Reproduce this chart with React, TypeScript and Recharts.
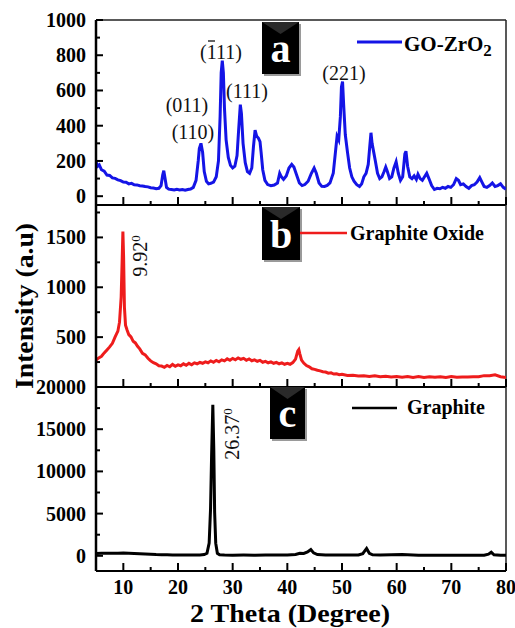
import React from 'react';
import { LineChart, Line, XAxis, YAxis, ReferenceLine } from 'recharts';

// XRD patterns: [2 theta, intensity]
const goZrO2: [number, number][] = [
  [5, 195], [5.3, 170], [5.6, 178], [6, 150], [6.5, 142], [7, 120], [7.5, 118], [8, 104], [8.5, 101],
  [9, 93], [9.5, 88], [10, 80], [10.5, 79], [11, 70], [11.5, 73], [12, 65], [12.5, 64], [13, 59],
  [13.5, 58], [14, 55], [14.5, 53], [15, 48], [15.5, 46], [16, 42], [16.5, 45], [16.9, 60], [17.2, 120],
  [17.4, 145], [17.6, 108], [17.9, 50], [18.3, 40], [18.8, 38], [19.3, 35], [19.8, 39], [20.3, 35],
  [20.8, 38], [21.3, 34], [21.8, 38], [22.3, 41], [22.8, 50], [23.3, 90], [23.7, 200], [23.9, 270],
  [24.2, 300], [24.5, 250], [24.8, 140], [25.2, 85], [25.6, 70], [26, 73], [26.5, 80], [27, 110],
  [27.4, 200], [27.7, 450], [27.9, 700], [28.1, 770], [28.3, 700], [28.5, 500], [28.8, 320], [29.2, 220],
  [29.6, 175], [30, 160], [30.4, 170], [30.8, 230], [31.1, 380], [31.4, 520], [31.6, 470], [31.9, 300],
  [32.3, 190], [32.7, 140], [33.1, 130], [33.5, 160], [33.8, 280], [34.1, 375], [34.4, 340], [34.7, 330],
  [35, 310], [35.2, 250], [35.5, 150], [35.9, 90], [36.4, 66], [37, 60], [37.6, 63], [38.2, 75],
  [38.6, 130], [38.9, 110], [39.3, 95], [39.8, 115], [40.3, 160], [40.8, 180], [41.2, 165], [41.7, 120],
  [42.2, 75], [42.7, 60], [43.2, 66], [43.8, 85], [44.4, 130], [44.9, 160], [45.3, 130], [45.8, 75],
  [46.3, 56], [46.8, 55], [47.3, 61], [47.8, 75], [48.4, 130], [48.8, 250], [49.1, 340], [49.4, 320],
  [49.7, 450], [49.9, 620], [50.1, 650], [50.3, 520], [50.6, 350], [51, 250], [51.4, 160], [51.8, 110],
  [52.2, 85], [52.7, 65], [53.2, 55], [53.6, 70], [54, 110], [54.4, 130], [54.8, 180], [55.1, 290],
  [55.3, 360], [55.5, 300], [55.8, 250], [56.1, 200], [56.5, 130], [56.9, 100], [57.3, 110], [57.7, 140],
  [58, 165], [58.3, 140], [58.7, 100], [59.1, 110], [59.5, 160], [59.9, 195], [60.3, 130], [60.7, 90],
  [61.1, 110], [61.5, 240], [61.7, 255], [62, 170], [62.4, 110], [62.8, 100], [63.2, 115], [63.6, 95],
  [63.9, 125], [64.3, 100], [64.7, 90], [65.1, 110], [65.5, 130], [65.9, 100], [66.4, 60], [66.9, 38],
  [67.4, 45], [67.9, 42], [68.4, 50], [68.9, 45], [69.4, 55], [69.9, 50], [70.4, 65], [70.9, 100],
  [71.3, 90], [71.7, 65], [72.2, 70], [72.7, 55], [73.2, 45], [73.7, 60], [74.2, 65], [74.7, 80],
  [75.2, 105], [75.6, 80], [76, 55], [76.5, 50], [77, 60], [77.5, 75], [78, 55], [78.5, 60], [79, 70],
  [79.5, 50], [80, 40],
];

const graphiteOxide: [number, number][] = [
  [5, 270], [5.5, 292], [6, 308], [6.5, 342], [7, 372], [7.5, 402], [8, 438], [8.5, 502], [9, 560],
  [9.3, 650], [9.6, 900], [9.8, 1300], [9.92, 1560], [10.05, 1300], [10.2, 800], [10.4, 620], [10.7, 570],
  [11, 525], [11.4, 502], [11.8, 458], [12.2, 442], [12.6, 408], [13, 382], [13.5, 338], [14, 322],
  [14.5, 288], [15, 262], [15.5, 243], [16, 232], [16.5, 213], [17, 210], [17.5, 198], [18, 216],
  [18.5, 203], [19, 226], [19.5, 208], [20, 222], [20.5, 213], [21, 232], [21.5, 218], [22, 237],
  [22.5, 223], [23, 242], [23.5, 233], [24, 247], [24.5, 238], [25, 252], [25.5, 243], [26, 262],
  [26.5, 248], [27, 267], [27.5, 253], [28, 272], [28.5, 262], [29, 282], [29.5, 268], [30, 287],
  [30.5, 273], [31, 292], [31.5, 278], [32, 287], [32.5, 268], [33, 282], [33.5, 263], [34, 272],
  [34.5, 258], [35, 267], [35.5, 248], [36, 257], [36.5, 243], [37, 252], [37.5, 238], [38, 247],
  [38.5, 233], [39, 242], [39.5, 228], [40, 237], [40.5, 228], [41, 245], [41.5, 280], [41.9, 360],
  [42.1, 375], [42.3, 330], [42.6, 270], [43, 240], [43.5, 215], [44, 202], [44.5, 183], [45, 177],
  [45.5, 168], [46, 162], [46.5, 153], [47, 150], [47.5, 138], [48, 142], [48.5, 130], [49, 132],
  [49.5, 123], [50, 128], [51, 116], [52, 118], [53, 110], [54, 113], [55, 106], [56, 112], [57, 103],
  [58, 108], [59, 100], [60, 106], [61, 98], [62, 104], [63, 96], [64, 104], [65, 96], [66, 102],
  [67, 97], [68, 103], [69, 96], [70, 104], [71, 98], [72, 100], [73, 101], [74, 103], [75, 102],
  [76, 114], [77, 113], [78, 122], [79, 103], [80, 95],
];

const graphite: [number, number][] = [
  [5, 280], [6, 300], [7, 290], [8, 310], [9, 300], [10, 320], [11, 290], [12, 260], [13, 230],
  [14, 200], [15, 180], [16, 150], [17, 140], [18, 120], [19, 110], [20, 100], [21, 95], [22, 90],
  [23, 90], [24, 100], [24.8, 150], [25.3, 300], [25.7, 1500], [25.95, 5500], [26.15, 12000],
  [26.37, 17900], [26.55, 12500], [26.7, 5200], [26.9, 1500], [27.2, 300], [27.6, 120], [28.5, 90],
  [30, 80], [32, 85], [34, 80], [36, 90], [38, 85], [40, 100], [41.5, 150], [42.3, 300], [43, 280],
  [43.7, 450], [44.3, 750], [44.8, 350], [45.5, 150], [47, 110], [49, 100], [51, 90], [53, 100],
  [53.8, 250], [54.5, 870], [55, 300], [55.6, 120], [57, 110], [59, 120], [61, 150], [62, 120],
  [64, 80], [66, 70], [68, 75], [70, 70], [72, 75], [74, 70], [76, 80], [76.8, 200], [77.3, 420],
  [77.8, 120], [79, 70], [80, 60],
];

const xTicks = [10, 15, 20, 25, 30, 35, 40, 45, 50, 55, 60, 65, 70, 75, 80];
const aTicks = [0, 100, 200, 300, 400, 500, 600, 700, 800, 900, 1000];
const bTicks = [250, 500, 750, 1000, 1250, 1500, 1750];
const cTicks = [0, 2500, 5000, 7500, 10000, 12500, 15000, 17500, 20000];

const FONT = '"Liberation Serif", "Times New Roman", serif';
const Y_GAP = 10;
const X_GAP = 16;

const makeYTick = (step: number) => (props: any) => {
  const { x, y, payload } = props;
  const v = payload.value;
  const major = v % step === 0;
  return (
    <g>
      <line x1={x + Y_GAP} x2={x + Y_GAP + (major ? 7 : 4)} y1={y} y2={y} stroke="#000" strokeWidth={2} />
      {major && (
        <text x={x} y={y} dy="0.35em" textAnchor="end" fontFamily={FONT} fontWeight="bold" fontSize={20} fill="#000">
          {v}
        </text>
      )}
    </g>
  );
};

const makeXTick = (showLabel: boolean) => (props: any) => {
  const { x, y, payload } = props;
  const v = payload.value;
  const major = v % 10 === 0;
  const base = y - X_GAP;
  return (
    <g>
      <line x1={x} x2={x} y1={base} y2={base - (major ? 8 : 4)} stroke="#000" strokeWidth={2} />
      {showLabel && major && (
        <text x={x} y={y} dy="0.35em" textAnchor="middle" fontFamily={FONT} fontWeight="bold" fontSize={20} fill="#000">
          {v}
        </text>
      )}
    </g>
  );
};

interface PanelProps {
  points: [number, number][];
  color: string;
  domain: [number, number];
  ticks: number[];
  step: number;
  top: number;
  plotHeight: number;
  axisHeight: number;
  xLabels?: boolean;
  topBorder?: boolean;
}

const Panel = ({ points, color, domain, ticks, step, top, plotHeight, axisHeight, xLabels, topBorder }: PanelProps) => {
  const data = points.map(([t, v]) => ({ t, v }));
  return (
    <div style={{ position: 'absolute', left: 0, top }}>
      <LineChart width={515} height={20 + plotHeight + axisHeight} data={data} margin={{ top: 20, right: 9, bottom: 0, left: 0 }}>
        <XAxis
          type="number"
          dataKey="t"
          domain={[5, 80]}
          allowDataOverflow
          ticks={xTicks}
          interval={0}
          height={axisHeight}
          tickSize={0}
          tickMargin={X_GAP}
          tickLine={false}
          axisLine={{ stroke: '#000', strokeWidth: 2 }}
          tick={makeXTick(!!xLabels)}
        />
        <YAxis
          type="number"
          domain={domain}
          allowDataOverflow
          ticks={ticks}
          interval={0}
          width={96}
          tickSize={0}
          tickMargin={Y_GAP}
          tickLine={false}
          axisLine={{ stroke: '#000', strokeWidth: 2.5 }}
          tick={makeYTick(step)}
        />
        <ReferenceLine x={80} stroke="#222" strokeWidth={1.5} />
        {topBorder && <ReferenceLine y={domain[1]} stroke="#222" strokeWidth={1.5} />}
        <Line type="linear" dataKey="v" stroke={color} strokeWidth={3} dot={false} isAnimationActive={false} />
      </LineChart>
    </div>
  );
};

const LetterBox = ({ x, y, w, h, letter }: { x: number; y: number; w: number; h: number; letter: string }) => (
  <g>
    <rect x={x + 2} y={y + 2} width={w} height={h} fill="#9a9a9a" />
    <rect x={x} y={y} width={w} height={h} fill="#000" />
    <polygon points={`${x},${y} ${x + w},${y} ${x + w / 2},${y + 12}`} fill="#2a2a2a" />
    <text x={x + w / 2} y={y + h - 12} textAnchor="middle" fontFamily={FONT} fontWeight="bold" fontSize={40} fill="#fff">
      {letter}
    </text>
  </g>
);

export default function App() {
  return (
    <div style={{ position: 'absolute', left: 0, top: 0, width: 515, height: 628, background: '#fff', overflow: 'hidden' }}>
      <Panel points={goZrO2} color="#1414e6" domain={[-50, 1000]} ticks={aTicks} step={200} top={0} plotHeight={185} axisHeight={20} topBorder />
      <Panel points={graphiteOxide} color="#ee1c1c" domain={[0, 1825]} ticks={bTicks} step={500} top={185} plotHeight={182} axisHeight={20} />
      <Panel points={graphite} color="#000" domain={[-1800, 20000]} ticks={cTicks} step={5000} top={367} plotHeight={184} axisHeight={40} xLabels />

      <svg width={515} height={628} style={{ position: 'absolute', left: 0, top: 0, pointerEvents: 'none' }}>
        {/* axis titles */}
        <text x={290} y={613} dy="0.35em" textAnchor="middle" fontFamily={FONT} fontWeight="bold" fontSize={25}
          textLength={200} lengthAdjust="spacingAndGlyphs">
          2 Theta (Degree)
        </text>
        <text transform="translate(24,306) rotate(-90)" dy="0.35em" textAnchor="middle" fontFamily={FONT} fontWeight="bold"
          fontSize={25} textLength={166} lengthAdjust="spacingAndGlyphs">
          Intensity (a.u)
        </text>

        {/* panel a */}
        <LetterBox x={262} y={22} w={37} h={52} letter="a" />
        <line x1={357} x2={402} y1={42} y2={42} stroke="#1414e6" strokeWidth={3} />
        <text x={404} y={51} fontFamily={FONT} fontWeight="bold" fontSize={21}>
          GO-ZrO<tspan dy={5} fontSize={17}>2</tspan>
        </text>
        <g fontFamily={FONT} fontSize={20} textAnchor="middle" fill="#111">
          <text x={187} y={112}>(011)</text>
          <text x={193} y={139}>(110)</text>
          <text x={221} y={59}>(111)</text>
          <text x={247} y={98}>(111)</text>
          <text x={344} y={80}>(221)</text>
        </g>
        <line x1={208} x2={215} y1={41} y2={41} stroke="#111" strokeWidth={1.3} />

        {/* panel b */}
        <LetterBox x={262} y={207} w={38} h={53} letter="b" />
        <line x1={300} x2={347} y1={233} y2={233} stroke="#ee1c1c" strokeWidth={2.5} />
        <text x={350} y={240} fontFamily={FONT} fontWeight="bold" fontSize={20}>Graphite Oxide</text>
        <text transform="translate(140,256) rotate(-90)" dy="0.35em" textAnchor="middle" fontFamily={FONT} fontSize={20} fill="#111">
          9.92<tspan dy={-7} fontSize={13}>0</tspan>
        </text>

        {/* panel c */}
        <LetterBox x={270} y={387} w={35} h={52} letter="c" />
        <line x1={352} x2={397} y1={408} y2={408} stroke="#000" strokeWidth={2.5} />
        <text x={407} y={414} fontFamily={FONT} fontWeight="bold" fontSize={20}>Graphite</text>
        <text transform="translate(232,434) rotate(-90)" dy="0.35em" textAnchor="middle" fontFamily={FONT} fontSize={20} fill="#111">
          26.37<tspan dy={-7} fontSize={13}>0</tspan>
        </text>
      </svg>
    </div>
  );
}
